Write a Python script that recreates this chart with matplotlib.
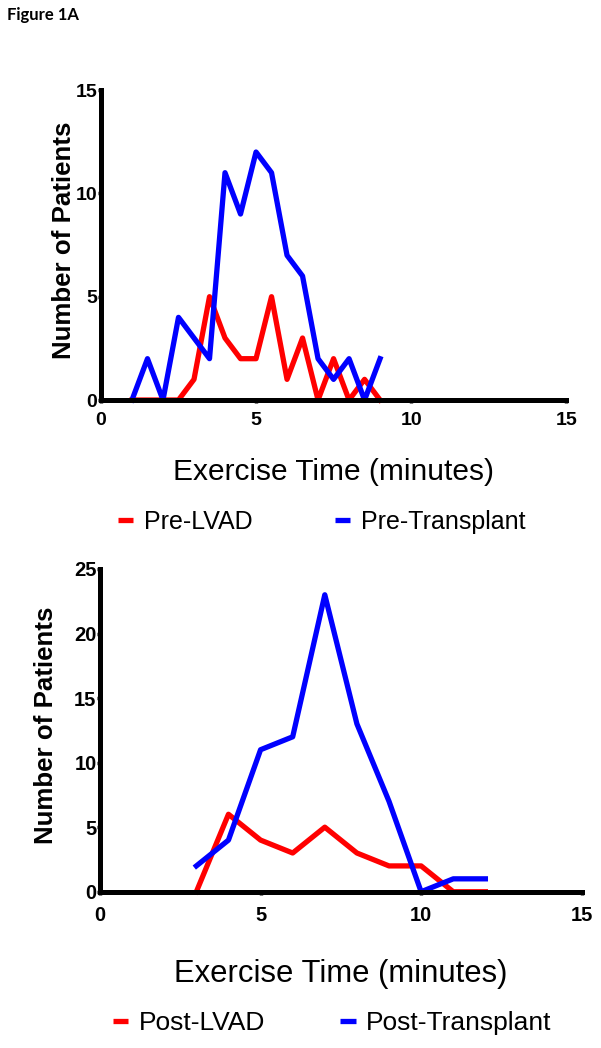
import matplotlib.pyplot as plt
from matplotlib.lines import Line2D

plt.rcParams['font.family'] = ['Liberation Sans', 'DejaVu Sans']

# Top panel: pre-LVAD vs pre-transplant
pre_time = [1.0, 1.5, 2.0, 2.5, 3.0, 3.5, 4.0, 4.5, 5.0, 5.5, 6.0, 6.5, 7.0, 7.5, 8.0, 8.5, 9.0]
pre_lvad = [0, 0, 0, 0, 1, 5, 3, 2, 2, 5, 1, 3, 0, 2, 0, 1, 0]
pre_transplant = [0, 2, 0, 4, 3, 2, 11, 9, 12, 11, 7, 6, 2, 1, 2, 0, 2]

# Bottom panel: post-LVAD vs post-transplant
post_time = [3, 4, 5, 6, 7, 8, 9, 10, 11, 12]
post_lvad = [0, 6, 4, 3, 5, 3, 2, 2, 0, 0]
post_transplant = [2, 4, 11, 12, 23, 13, 7, 0, 1, 1]

x_ticks = [0, 5, 10, 15]
top_y_ticks = [0, 5, 10, 15]
bottom_y_ticks = [0, 5, 10, 15, 20, 25]

RED = '#ff0000'
BLUE = '#0000ff'

fig = plt.figure(figsize=(6.01, 10.48), dpi=100)

fig.text(0.012, 0.986, 'Figure 1A', family=['Lato', 'DejaVu Sans'],
         fontweight='bold', fontsize=12, va='center', ha='left')


def style_axes(ax, yticks, ymax, tick_size):
    ax.set_xlim(0, 15)
    ax.set_ylim(0, ymax)
    ax.set_xticks(x_ticks)
    ax.set_yticks(yticks)
    for side in ['top', 'right']:
        ax.spines[side].set_visible(False)
    for side in ['left', 'bottom']:
        ax.spines[side].set_linewidth(3.6)
        ax.spines[side].set_capstyle('projecting')
    ax.tick_params(direction='out', length=2.5, width=2.5, labelsize=tick_size)
    ax.tick_params(axis='y', pad=0)
    for lab in ax.get_xticklabels() + ax.get_yticklabels():
        lab.set_fontweight('bold')
    ax.set_ylabel('Number of Patients', fontsize=18.6, fontweight='bold')


# ---- top chart ----
ax1 = fig.add_axes([0.168, 0.6183, 0.774, 0.2958])
ax1.plot(pre_time, pre_lvad, color=RED, lw=3.8, clip_on=False, zorder=2)
ax1.plot(pre_time, pre_transplant, color=BLUE, lw=3.8, clip_on=False, zorder=2)
style_axes(ax1, top_y_ticks, 15, 14)
ax1.tick_params(axis='x', pad=6)
ax1.set_xlabel('Exercise Time (minutes)', fontsize=21.5, labelpad=21)
ax1.yaxis.set_label_coords(-0.054, 0.516)

handles1 = [Line2D([], [], color=RED, lw=3.8, solid_capstyle='butt'),
            Line2D([], [], color=BLUE, lw=3.8, solid_capstyle='butt')]
fig.legend(handles1, ['Pre-LVAD', 'Pre-Transplant'], ncol=2, frameon=False,
           loc='center left', bbox_to_anchor=(0.196, 0.502), fontsize=18,
           handlelength=0.62, handletextpad=0.42, columnspacing=3.3,
           borderpad=0, borderaxespad=0)

# ---- bottom chart ----
ax2 = fig.add_axes([0.1664, 0.1491, 0.8015, 0.308])
ax2.plot(post_time, post_lvad, color=RED, lw=3.8, clip_on=False, zorder=2)
ax2.plot(post_time, post_transplant, color=BLUE, lw=3.8, clip_on=False, zorder=2)
style_axes(ax2, bottom_y_ticks, 25, 14.5)
ax2.tick_params(axis='x', pad=8)
ax2.set_xlabel('Exercise Time (minutes)', fontsize=22.3, labelpad=24)
ax2.yaxis.set_label_coords(-0.088, 0.517)

handles2 = [Line2D([], [], color=RED, lw=3.8, solid_capstyle='butt'),
            Line2D([], [], color=BLUE, lw=3.8, solid_capstyle='butt')]
fig.legend(handles2, ['Post-LVAD', 'Post-Transplant'], ncol=2, frameon=False,
           loc='center left', bbox_to_anchor=(0.188, 0.024), fontsize=19,
           handlelength=0.58, handletextpad=0.4, columnspacing=2.85,
           borderpad=0, borderaxespad=0)

fig.savefig('out.png', dpi=100)
